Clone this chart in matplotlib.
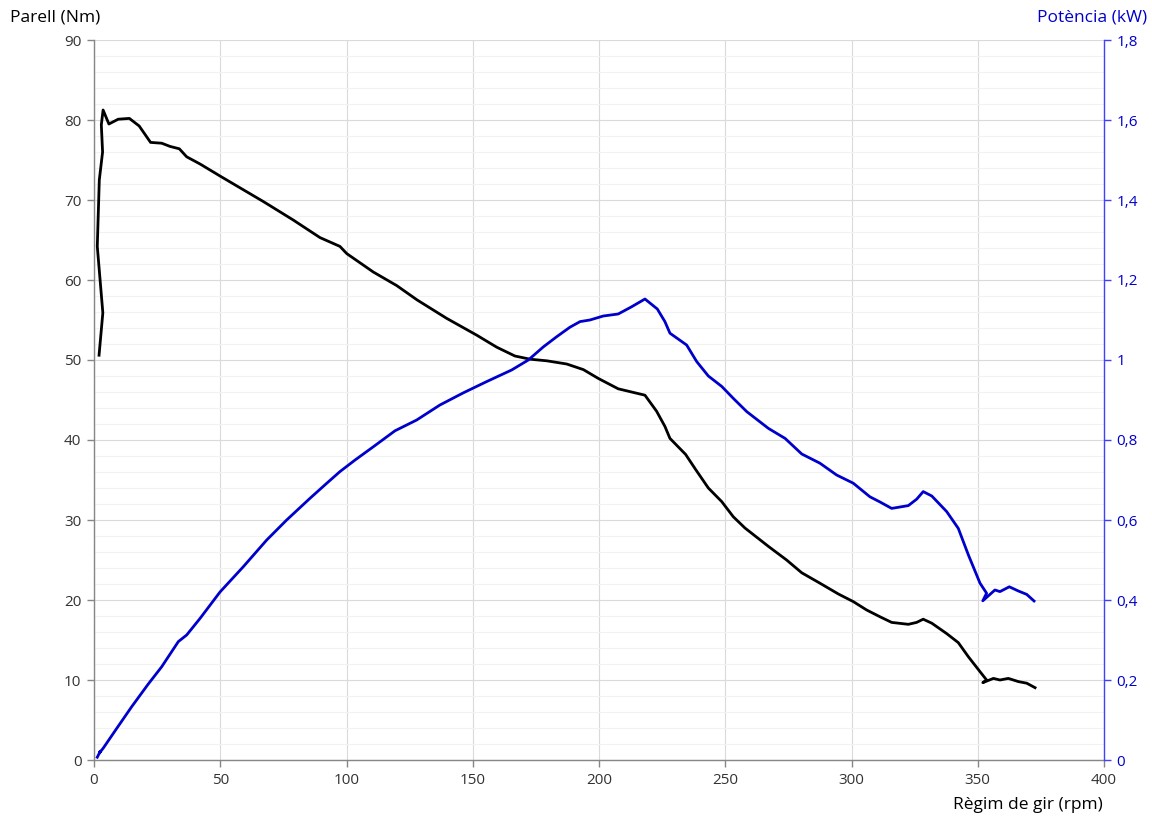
import matplotlib
matplotlib.use("Agg")
import matplotlib.pyplot as plt
from matplotlib.ticker import MultipleLocator, FuncFormatter

# Torque curve (rpm, Nm)
torque_rpm = [2.0, 3.5, 1.3, 2.1, 3.4, 2.9, 3.6, 5.9, 9.6, 14.0, 17.9, 22.4, 26.8, 30.1,
              33.8, 36.7, 42.0, 49.9, 55.8, 67.1, 78.9, 89.5, 97.4, 100.1, 110.6, 119.9,
              128.0, 139.7, 151.6, 159.5, 166.7, 172.7, 179.3, 187.2, 193.8, 199.7, 207.6,
              218.2, 222.8, 226.1, 228.1, 234.3, 238.3, 243.3, 248.6, 253.2, 257.8, 267.1,
              274.3, 280.3, 287.5, 294.8, 300.7, 306.0, 311.3, 315.9, 322.5, 325.8, 328.4,
              331.8, 337.7, 342.3, 346.3, 350.9, 353.5, 352.0, 356.2, 358.8, 362.1, 366.1,
              369.4, 372.7]
torque_nm = [50.6, 55.9, 64.2, 72.5, 76.0, 79.4, 81.25, 79.5, 80.1, 80.2, 79.25, 77.2, 77.1,
             76.7, 76.4, 75.4, 74.5, 73.0, 71.9, 69.8, 67.5, 65.3, 64.2, 63.3, 61.0, 59.3,
             57.5, 55.2, 53.1, 51.6, 50.5, 50.1, 49.9, 49.5, 48.8, 47.7, 46.4, 45.6, 43.6,
             41.7, 40.2, 38.2, 36.3, 34.0, 32.3, 30.4, 29.0, 26.7, 25.0, 23.4, 22.1, 20.75,
             19.8, 18.75, 17.9, 17.2, 16.96, 17.2, 17.6, 17.1, 15.8, 14.67, 12.9, 11.04,
             10.0, 9.67, 10.2, 10.0, 10.2, 9.8, 9.6, 9.04]

# Power curve (rpm, kW)
power_rpm = [1.3, 2.5, 2.1, 3.7, 9.0, 14.9, 21.5, 26.8, 33.4, 36.7, 42.0, 49.9, 59.1, 68.4,
             76.3, 85.5, 92.2, 97.4, 103.4, 110.6, 119.2, 127.8, 137.0, 146.3, 155.5, 165.4,
             172.0, 178.0, 183.2, 188.5, 192.5, 196.4, 201.7, 207.6, 212.9, 218.2, 223.1,
             226.1, 228.1, 234.7, 238.7, 243.3, 248.6, 253.2, 258.5, 267.1, 273.7, 280.3,
             287.5, 294.1, 300.7, 307.3, 311.3, 315.9, 322.5, 325.8, 328.4, 331.8, 337.7,
             342.3, 346.3, 350.9, 353.5, 352.0, 356.8, 358.8, 362.5, 366.1, 369.4, 372.3]
power_kw = [0.007, 0.022, 0.017, 0.030, 0.079, 0.133, 0.190, 0.233, 0.296, 0.3125, 0.354,
            0.420, 0.483, 0.550, 0.600, 0.654, 0.692, 0.721, 0.750, 0.783, 0.823, 0.850,
            0.8875, 0.918, 0.946, 0.975, 1.000, 1.033, 1.058, 1.082, 1.096, 1.100, 1.110,
            1.115, 1.133, 1.1525, 1.1275, 1.096, 1.067, 1.0375, 0.996, 0.960, 0.934, 0.904,
            0.871, 0.829, 0.804, 0.765, 0.742, 0.7125, 0.692, 0.658, 0.645, 0.629, 0.636,
            0.652, 0.671, 0.660, 0.621, 0.579, 0.5125, 0.442, 0.417, 0.398, 0.425, 0.421,
            0.433, 0.4225, 0.414, 0.3975]

plt.rcParams['font.family'] = ['Open Sans', 'DejaVu Sans']

BLUE = '#0000cc'
AXIS_BLUE = '#4040ff'
GREY_TXT = '#333333'

fig = plt.figure(figsize=(11.52, 8.18), dpi=100)
ax = fig.add_axes([94 / 1152, 1 - 760 / 818, (1104 - 94) / 1152, (760 - 40) / 818])
ax2 = ax.twinx()

ax.set_xlim(0, 400)
ax.set_ylim(0, 90)
ax2.set_ylim(0, 1.8)

ax.xaxis.set_major_locator(MultipleLocator(50))
ax.yaxis.set_major_locator(MultipleLocator(10))
ax.yaxis.set_minor_locator(MultipleLocator(2))
ax2.yaxis.set_major_locator(MultipleLocator(0.2))

ax.grid(True, which='major', axis='both', color='#dadada', linewidth=0.8)
ax.grid(True, which='minor', axis='y', color='#f2f2f2', linewidth=0.8)
ax.set_axisbelow(True)

ax.plot(torque_rpm, torque_nm, color='black', linewidth=2.0, solid_joinstyle='round', zorder=3)
ax2.plot(power_rpm, power_kw, color=BLUE, linewidth=2.0, solid_joinstyle='round', zorder=3)

for a in (ax, ax2):
    a.spines['top'].set_visible(False)
ax.spines['right'].set_visible(False)
ax2.spines['left'].set_visible(False)
ax2.spines['bottom'].set_visible(False)
ax.spines['left'].set_color('#868686')
ax.spines['bottom'].set_color('#868686')
ax2.spines['right'].set_color(AXIS_BLUE)
for s in ('left', 'bottom'):
    ax.spines[s].set_linewidth(1.0)
ax2.spines['right'].set_linewidth(1.0)

ax.tick_params(axis='both', which='major', direction='out', length=5, width=1,
               color='#868686', labelsize=11, labelcolor=GREY_TXT, pad=4)
ax.tick_params(axis='y', which='minor', length=0)
ax2.tick_params(axis='y', which='major', direction='out', length=5, width=1,
                color=AXIS_BLUE, labelsize=11, labelcolor=BLUE, pad=4)

ax2.yaxis.set_major_formatter(FuncFormatter(
    lambda v, _: '0' if abs(v) < 1e-9 else (('%g' % round(v, 1)).replace('.', ','))))

fig.text(10 / 1152, 1 - 18 / 818, 'Parell (Nm)', ha='left', va='center',
         fontsize=12.5, color='black')
fig.text(1147 / 1152, 1 - 18 / 818, 'Potència (kW)', ha='right', va='center',
         fontsize=12.5, color=BLUE)
fig.text(1103 / 1152, 1 - 805 / 818, 'Règim de gir (rpm)', ha='right', va='center',
         fontsize=12.5, color='black')

fig.savefig('out.png', dpi=100, facecolor='white')
